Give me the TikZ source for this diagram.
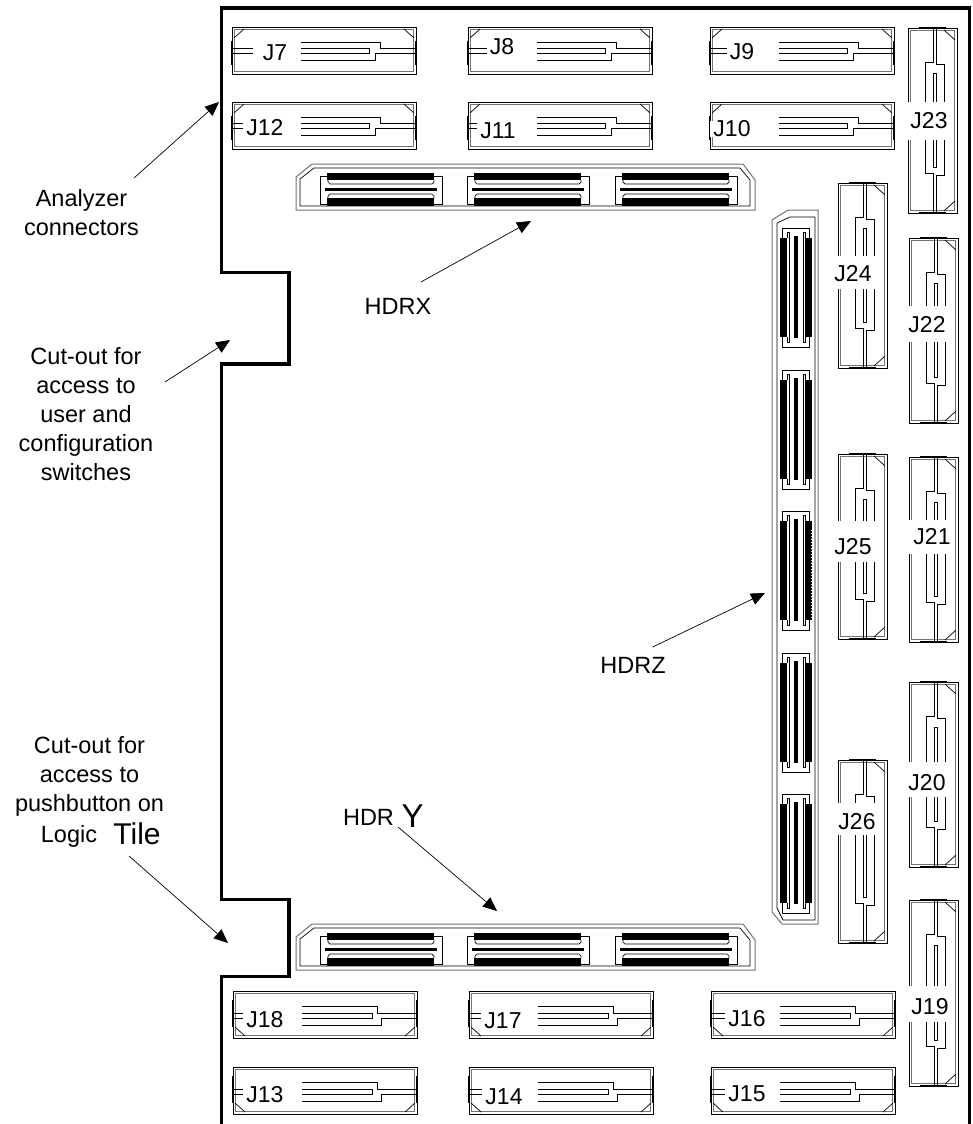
\documentclass[tikz,border=0pt]{standalone}
\usepackage{fontspec}
\setmainfont{Liberation Sans}
\usetikzlibrary{arrows.meta}
\newcommand{\txt}{\fontsize{23.5}{29}\selectfont}
\newcommand{\lbl}{\fontsize{23}{23}\selectfont}
\newcommand{\bigtxt}{\fontsize{30}{30}\selectfont}
\newcommand{\bigy}{\fontsize{33}{33}\selectfont}
\tikzset{
  blk/.style={draw=black,line width=0.8pt},
  gry/.style={draw=black!55,line width=1pt},
  hair/.style={draw=black,line width=0.7pt},
  callout/.style={draw=black,line width=0.7pt,-{Triangle[length=14pt,width=12pt]}},
  captext/.style={inner sep=0pt,align=center,font=\txt},
  jlabel/.style={inner sep=0pt,font=\lbl},
  wall/.style={draw=black,line width=3.5pt,miter limit=10}
}
% horizontal connector: #1 xl, #2 yt, #3 chamfer side (1 = top,0 = bottom), #4 name, #5 label, #6 label cx, #7 label cy
\newcommand{\hconn}[7]{%
 \begin{scope}[shift={(#1,#2)}]
  \draw[blk] (0,0) rectangle (184,47);
  \draw[gry] (2.5,2.5) rectangle (181.5,44.5);
  \ifnum#3=1
    \fill (-0.7,14) rectangle (1,38);
    \fill (183,14) rectangle (184.7,38);
    \draw[hair] (2,11)--(12,2);
    \draw[hair] (182,11)--(172,2);
    \draw[hair] (69,15)--(148,15)--(148,21)--(184,21);
    \draw[hair] (69,21)--(137,21)--(137,26)--(69,26);
    \draw[hair] (69,33)--(143,33)--(143,26)--(184,26);
    \draw[hair] (0,21)--(21,21) (0,26)--(21,26);
  \else
    \fill (-0.7,9) rectangle (1,36);
    \fill (183,9) rectangle (184.7,36);
    \draw[hair] (2,36)--(12,45);
    \draw[hair] (182,36)--(172,45);
    \draw[hair] (69,15)--(144,15)--(144,22)--(184,22);
    \draw[hair] (69,22)--(139,22)--(139,27)--(69,27);
    \draw[hair] (69,34)--(148,34)--(148,27)--(184,27);
    \draw[hair] (0,22)--(21,22) (0,27)--(21,27);
  \fi
 \end{scope}
 \node[jlabel,fill=white,inner xsep=3pt] (#4) at (#6,#7) {#5};
}
% vertical connector: #1 xl, #2 yt, #3 yb, #4 gap top, #5 gap bottom, #6 name, #7 label, #8 cx, #9 cy
\newcommand{\vconn}[9]{%
 \draw[blk] (#1,#2) rectangle (#1+49,#3);
 \draw[gry] (#1+2.5,#2+2.5) rectangle (#1+46.5,#3-2.5);
 \fill (#1+11,#2-0.7) rectangle (#1+38,#2+1);
 \fill (#1+11,#3-1) rectangle (#1+38,#3+0.7);
 \draw[hair] (#1+36,#2+2)--(#1+47,#2+12);
 \draw[hair] (#1+36,#3-2)--(#1+47,#3-12);
 \draw[hair] (#1+25,#2)--(#1+25,#2+34)--(#1+17,#2+34)--(#1+17,#3-40)--(#1+25,#3-40)--(#1+25,#3);
 \draw[hair] (#1+28,#2)--(#1+28,#2+36)--(#1+36,#2+36)--(#1+36,#3-38)--(#1+28,#3-38)--(#1+28,#3);
 \draw[hair] (#1+25,#3-46)--(#1+25,#2+45)--(#1+28,#2+45)--(#1+28,#3-46)--cycle;
 \fill[white] (#1-1.5,#4) rectangle (#1+45.5,#5);
 \node[jlabel] (#6) at (#8,#9) {#7};
}
% block of horizontal header
\newcommand{\hblk}[2]{%
 \begin{scope}[shift={(#1,#2)}]
  \draw[hair] (8,4) -- (0,4) -- (0,32) -- (8,32);
  \draw[hair] (114,4) -- (122,4) -- (122,32) -- (114,32);
  \fill (7,1) rectangle (114,8);
  \fill (7,26) rectangle (114,33.5);
  \fill (5,16) rectangle (117,19);
  \draw[hair] (8,8)--(8,10)--(10,12)--(112,12)--(114,10)--(114,8);
  \draw[hair] (8,26)--(8,24)--(10,22)--(112,22)--(114,24)--(114,26);
 \end{scope}
}
% block of vertical header
\newcommand{\vblk}[1]{%
 \begin{scope}[shift={(780,#1)}]
  \draw[hair] (2,10) -- (2,0) -- (29,0) -- (29,10);
  \draw[hair] (2,109) -- (2,119) -- (29,119) -- (29,109);
  \fill (0,10) rectangle (7,109);
  \fill (25,10) rectangle (32,109);
  \fill (14,8) rectangle (18,110);
  \draw[hair] (7,10)--(7,4)--(9,4)--(9,109)--(9,114)--(7,114)--(7,109);
  \draw[hair] (25,10)--(25,4)--(23,4)--(23,109)--(23,114)--(25,114)--(25,109);
 \end{scope}
}
\begin{document}
\begin{tikzpicture}[x=1pt,y=-1pt]
\useasboundingbox (0,0) rectangle (973,1124);
\fill[white] (0,0) rectangle (973,1124);
% board outline
\draw[wall] (969.5,1126) -- (969.5,8) -- (221.5,8) -- (221.5,272.5) -- (289,272.5) -- (289,364) -- (221.5,364)
  -- (221.5,899.5) -- (289,899.5) -- (289,976.5) -- (221.5,976.5) -- (221.5,1126);
% horizontal connectors
\hconn{232}{27}{1}{j7}{J7}{275}{53}
\hconn{468}{27}{1}{j8}{J8}{502}{47}
\hconn{710}{27}{1}{j9}{J9}{742}{52}
\hconn{232}{102}{1}{j12}{J12}{265}{128}
\hconn{468}{102}{1}{j11}{J11}{498}{131}
\hconn{710}{102}{1}{j10}{J10}{732}{129}
\hconn{233}{991}{0}{j18}{J18}{265}{1020}
\hconn{469}{991}{0}{j17}{J17}{503}{1021}
\hconn{711}{991}{0}{j16}{J16}{747}{1019}
\hconn{233}{1067}{0}{j13}{J13}{265}{1095}
\hconn{469}{1067}{0}{j14}{J14}{504}{1097}
\hconn{711}{1067}{0}{j15}{J15}{747}{1094}
% vertical connectors
\vconn{908}{28}{213}{102}{140}{j23}{J23}{929}{121}
\vconn{838}{183}{368}{256}{289}{j24}{J24}{853}{274}
\vconn{909}{238}{423}{306}{342}{j22}{J22}{927}{325}
\vconn{838}{454}{639}{521}{562}{j25}{J25}{853}{547}
\vconn{909}{457}{642}{520}{554}{j21}{J21}{932}{537}
\vconn{909}{682}{867}{762}{797}{j20}{J20}{927}{783}
\vconn{909}{900}{1086}{986}{1022}{j19}{J19}{930}{1007}
\vconn{838}{760}{943}{803}{835}{j26}{J26}{857}{822}
% header X
\draw[gry] (296,177)--(312,164)--(743,164)--(755,180)--(755,210)--(296,210)--cycle;
\draw[hair] (300,179)--(314,168)--(740,168)--(750,180)--(750,206)--(300,206)--cycle;
\hblk{320}{172}\hblk{467}{172}\hblk{615}{172}
% header Y
\draw[gry] (296,937)--(312,924)--(743,924)--(755,940)--(755,970)--(296,970)--cycle;
\draw[hair] (300,939)--(314,928)--(740,928)--(750,940)--(750,966)--(300,966)--cycle;
\hblk{320}{932}\hblk{467}{932}\hblk{615}{932}
% header Z
\draw[gry] (772,220)--(788,210)--(818,210)--(818,924)--(782,924)--(772,912)--cycle;
\draw[hair] (777,223)--(790,217)--(815,217)--(815,920)--(783,920)--(777,908)--cycle;
\vblk{228}\vblk{370}\vblk{511}\vblk{653}\vblk{794}
\draw[white,line width=1pt,dash pattern=on 1pt off 2pt] (811.6,530)--(811.6,618);
% captions
\node[captext] (capa) at (81.5,213) {Analyzer\\connectors};
\node[captext] (hdrx) at (398,306) {HDRX};
\node[captext] (capb) at (86,414.5) {Cut-out for\\access to\\user and\\configuration\\switches};
\node[captext] (capc) at (89.5,776.5) {Cut-out for\\access to\\pushbutton on};
\node[captext] (logic) at (69,836) {Logic};
\node[inner sep=0pt,font=\bigtxt] (tile) at (137,834) {Tile};
\node[captext] (hdrz) at (633,665) {HDRZ};
\node[captext] (hdr) at (368.5,817) {HDR};
\node[inner sep=0pt,font=\bigy] (hdry) at (412.5,816) {Y};
% call-outs
\coordinate (a1) at (134,178); \coordinate (a2) at (219,102);
\coordinate (b1) at (421,282); \coordinate (b2) at (531,221);
\coordinate (c1) at (165,382); \coordinate (c2) at (230,340);
\coordinate (d1) at (129,856); \coordinate (d2) at (228,943);
\coordinate (e1) at (652.7,647); \coordinate (e2) at (765,593);
\coordinate (f1) at (398,827); \coordinate (f2) at (497,911);
\draw[callout] (a1) -- (a2);
\draw[callout] (b1) -- (b2);
\draw[callout] (c1) -- (c2);
\draw[callout] (d1) -- (d2);
\draw[callout] (e1) -- (e2);
\draw[callout] (f1) -- (f2);
\end{tikzpicture}
\end{document}
